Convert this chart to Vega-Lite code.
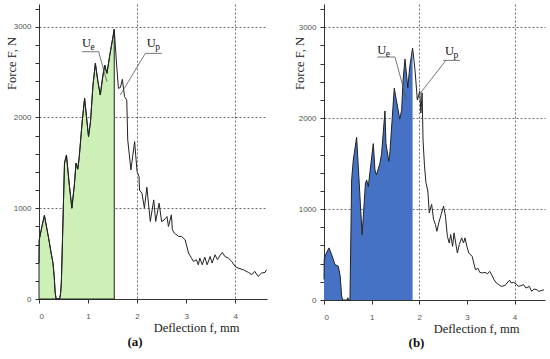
{
  "$schema": "https://vega.github.io/schema/vega-lite/v6.json",
  "padding": {"left": 5, "top": 4, "right": 0, "bottom": 0},
  "bounds": "flush",
  "spacing": 57,
  "background": "white",
  "config": {
    "view": {"stroke": null},
    "axis": {
      "domainColor": "#333",
      "tickColor": "#333",
      "tickSize": 4,
      "labelFont": "Liberation Sans",
      "labelFontSize": 8,
      "labelColor": "#555",
      "titleFont": "Liberation Serif",
      "titleFontSize": 12.5,
      "titleFontWeight": "normal",
      "titleColor": "#222",
      "grid": true,
      "gridColor": "#444",
      "gridDash": [2, 2],
      "gridWidth": 0.8
    },
    "title": {"font": "Liberation Serif", "fontSize": 13, "fontWeight": "bold", "color": "#111"}
  },
  "datasets": {
    "a": [
      {"f": 0, "F": 396}, {"f": 0.005, "F": 652}, {"f": 0.06, "F": 800}, {"f": 0.11, "F": 920},
      {"f": 0.2, "F": 660}, {"f": 0.24, "F": 530}, {"f": 0.285, "F": 396}, {"f": 0.31, "F": 250},
      {"f": 0.33, "F": 69}, {"f": 0.35, "F": 0}, {"f": 0.42, "F": 0}, {"f": 0.44, "F": 60},
      {"f": 0.456, "F": 179}, {"f": 0.52, "F": 1496}, {"f": 0.56, "F": 1587}, {"f": 0.61, "F": 1300},
      {"f": 0.67, "F": 1000}, {"f": 0.72, "F": 1250}, {"f": 0.755, "F": 1496}, {"f": 0.79, "F": 1430},
      {"f": 0.82, "F": 1560}, {"f": 0.88, "F": 1950}, {"f": 0.93, "F": 2211}, {"f": 0.97, "F": 2000},
      {"f": 1.01, "F": 1789}, {"f": 1.05, "F": 1950}, {"f": 1.1, "F": 2350}, {"f": 1.15, "F": 2596},
      {"f": 1.2, "F": 2400}, {"f": 1.25, "F": 2247}, {"f": 1.3, "F": 2450}, {"f": 1.34, "F": 2577},
      {"f": 1.385, "F": 2486}, {"f": 1.45, "F": 2706}, {"f": 1.535, "F": 2970}, {"f": 1.58, "F": 2600},
      {"f": 1.62, "F": 2321}, {"f": 1.66, "F": 2330}, {"f": 1.7, "F": 2420}, {"f": 1.745, "F": 2229},
      {"f": 1.79, "F": 2190}, {"f": 1.81, "F": 1752}, {"f": 1.875, "F": 1422}, {"f": 1.95, "F": 1734},
      {"f": 2.0, "F": 1404}, {"f": 2.04, "F": 1349}, {"f": 2.05, "F": 1200}, {"f": 2.1, "F": 1166},
      {"f": 2.15, "F": 1001}, {"f": 2.2, "F": 1232}, {"f": 2.27, "F": 854}, {"f": 2.34, "F": 1092},
      {"f": 2.38, "F": 854}, {"f": 2.45, "F": 1056}, {"f": 2.5, "F": 854}, {"f": 2.55, "F": 870},
      {"f": 2.61, "F": 909}, {"f": 2.64, "F": 799}, {"f": 2.7, "F": 927}, {"f": 2.72, "F": 762},
      {"f": 2.76, "F": 726}, {"f": 2.85, "F": 689}, {"f": 2.91, "F": 689}, {"f": 2.98, "F": 652},
      {"f": 3.05, "F": 506}, {"f": 3.1, "F": 460}, {"f": 3.15, "F": 414}, {"f": 3.21, "F": 432},
      {"f": 3.25, "F": 377}, {"f": 3.28, "F": 451}, {"f": 3.33, "F": 377}, {"f": 3.38, "F": 462},
      {"f": 3.43, "F": 377}, {"f": 3.49, "F": 469}, {"f": 3.53, "F": 396}, {"f": 3.59, "F": 487},
      {"f": 3.64, "F": 432}, {"f": 3.69, "F": 480}, {"f": 3.74, "F": 513}, {"f": 3.79, "F": 469},
      {"f": 3.86, "F": 451}, {"f": 3.93, "F": 414}, {"f": 4.0, "F": 359}, {"f": 4.06, "F": 341},
      {"f": 4.17, "F": 322}, {"f": 4.27, "F": 293}, {"f": 4.34, "F": 267}, {"f": 4.4, "F": 304},
      {"f": 4.47, "F": 249}, {"f": 4.54, "F": 286}, {"f": 4.61, "F": 293}, {"f": 4.64, "F": 322}
    ],
    "b": [
      {"f": 0, "F": 226}, {"f": 0.005, "F": 450}, {"f": 0.05, "F": 518}, {"f": 0.105, "F": 573},
      {"f": 0.16, "F": 500}, {"f": 0.23, "F": 390}, {"f": 0.3, "F": 372}, {"f": 0.34, "F": 263},
      {"f": 0.37, "F": 44}, {"f": 0.39, "F": 0}, {"f": 0.48, "F": 0}, {"f": 0.5, "F": 25},
      {"f": 0.52, "F": 0}, {"f": 0.545, "F": 0}, {"f": 0.58, "F": 1321}, {"f": 0.615, "F": 1540},
      {"f": 0.685, "F": 1790}, {"f": 0.72, "F": 1467}, {"f": 0.8, "F": 718}, {"f": 0.87, "F": 1285},
      {"f": 0.895, "F": 1321}, {"f": 0.93, "F": 1248}, {"f": 1.035, "F": 1720}, {"f": 1.07, "F": 1431},
      {"f": 1.1, "F": 1376}, {"f": 1.175, "F": 1504}, {"f": 1.21, "F": 1613}, {"f": 1.28, "F": 2080},
      {"f": 1.3, "F": 1723}, {"f": 1.36, "F": 1525}, {"f": 1.385, "F": 1632}, {"f": 1.475, "F": 2330},
      {"f": 1.52, "F": 2197}, {"f": 1.59, "F": 1990}, {"f": 1.63, "F": 2088}, {"f": 1.66, "F": 2416},
      {"f": 1.7, "F": 2650}, {"f": 1.76, "F": 2335}, {"f": 1.8, "F": 2562}, {"f": 1.86, "F": 2772},
      {"f": 1.91, "F": 2533}, {"f": 1.96, "F": 2200}, {"f": 2.01, "F": 2295}, {"f": 2.035, "F": 2057},
      {"f": 2.06, "F": 2280}, {"f": 2.08, "F": 1750}, {"f": 2.11, "F": 1476}, {"f": 2.14, "F": 1292},
      {"f": 2.18, "F": 1199}, {"f": 2.21, "F": 959}, {"f": 2.26, "F": 1052}, {"f": 2.3, "F": 886},
      {"f": 2.34, "F": 830}, {"f": 2.37, "F": 756}, {"f": 2.41, "F": 849}, {"f": 2.46, "F": 941},
      {"f": 2.51, "F": 1033}, {"f": 2.55, "F": 922}, {"f": 2.59, "F": 701}, {"f": 2.63, "F": 627},
      {"f": 2.66, "F": 720}, {"f": 2.7, "F": 590}, {"f": 2.73, "F": 738}, {"f": 2.8, "F": 517},
      {"f": 2.84, "F": 609}, {"f": 2.89, "F": 683}, {"f": 2.93, "F": 627}, {"f": 2.96, "F": 683},
      {"f": 3.0, "F": 590}, {"f": 3.04, "F": 517}, {"f": 3.11, "F": 480}, {"f": 3.18, "F": 332},
      {"f": 3.23, "F": 350}, {"f": 3.27, "F": 304}, {"f": 3.32, "F": 297}, {"f": 3.38, "F": 304},
      {"f": 3.43, "F": 289}, {"f": 3.48, "F": 315}, {"f": 3.53, "F": 267}, {"f": 3.57, "F": 223},
      {"f": 3.62, "F": 187}, {"f": 3.67, "F": 169}, {"f": 3.72, "F": 150}, {"f": 3.78, "F": 157},
      {"f": 3.82, "F": 169}, {"f": 3.87, "F": 205}, {"f": 3.9, "F": 216}, {"f": 3.93, "F": 187},
      {"f": 3.98, "F": 194}, {"f": 4.03, "F": 179}, {"f": 4.08, "F": 150}, {"f": 4.13, "F": 157},
      {"f": 4.19, "F": 169}, {"f": 4.24, "F": 131}, {"f": 4.31, "F": 150}, {"f": 4.36, "F": 95},
      {"f": 4.41, "F": 121}, {"f": 4.47, "F": 113}, {"f": 4.51, "F": 95}, {"f": 4.58, "F": 106},
      {"f": 4.62, "F": 113}
    ],
    "la": [
      {"f": 0.876, "F": 2779, "u": "U", "s": "e"},
      {"f": 2.2, "F": 2772, "u": "U", "s": "p"}
    ],
    "lb": [
      {"f": 1.119, "F": 2709, "u": "U", "s": "e"},
      {"f": 2.54, "F": 2698, "u": "U", "s": "p"}
    ],
    "sa": [
      {"f": 0.876, "F": 2724, "f2": 1.216, "F2": 2724},
      {"f": 1.216, "F": 2724, "f2": 1.385, "F2": 2394},
      {"f": 2.167, "F": 2706, "f2": 2.505, "F2": 2706},
      {"f": 2.167, "F": 2706, "f2": 1.658, "F2": 2247}
    ],
    "sb": [
      {"f": 1.12, "F": 2673, "f2": 1.49, "F2": 2673},
      {"f": 1.49, "F": 2673, "f2": 1.733, "F2": 2203},
      {"f": 2.504, "F": 2636, "f2": 2.854, "F2": 2636},
      {"f": 2.56, "F": 2636, "f2": 1.943, "F2": 2222}
    ]
  },
  "hconcat": [
    {
      "width": 228,
      "height": 295,
      "title": {"text": "(a)", "orient": "bottom", "anchor": "middle", "frame": "group", "dx": -18, "offset": 2},
      "encoding": {
        "x": {"field": "f", "type": "quantitative", "scale": {"domain": [0, 4.65], "nice": false},
          "axis": {"values": [0, 0.5, 1, 1.5, 2, 2.5, 3, 3.5, 4, 4.5], "format": "d",
            "labelExpr": "datum.value % 1 === 0 ? datum.label : ''", "labelPadding": 9,
            "title": "Deflection f, mm", "titleX": 157, "titleY": 32, "titleBaseline": "alphabetic", "titleAlign": "center",
            "gridOpacity": {"condition": {"test": "datum.value === 2 || datum.value === 4", "value": 1}, "value": 0}}},
        "y": {"field": "F", "type": "quantitative", "scale": {"domain": [0, 3250], "nice": false},
          "axis": {"values": [0, 200, 400, 600, 800, 1000, 1200, 1400, 1600, 1800, 2000, 2200, 2400, 2600, 2800, 3000, 3200], "format": "d",
            "labelExpr": "datum.value % 1000 === 0 ? datum.label : ''", "labelPadding": 4,
            "title": "Force F, N", "titleX": -28, "titleY": 59, "titleBaseline": "middle", "titleAlign": "center",
            "gridOpacity": {"condition": {"test": "datum.value % 1000 === 0 && datum.value > 0", "value": 1}, "value": 0}}}
      },
      "layer": [
        {"data": {"name": "a"}, "transform": [{"filter": "datum.f <= 1.535"}],
          "mark": {"type": "area", "color": "#ccf0b6", "stroke": "#222", "strokeWidth": 1}},
        {"data": {"name": "a"}, "mark": {"type": "line", "color": "#222", "strokeWidth": 1}},
        {"data": {"name": "sa"}, "mark": {"type": "rule", "color": "#555", "strokeWidth": 0.8},
          "encoding": {"x2": {"field": "f2"}, "y2": {"field": "F2"}}},
        {"data": {"name": "la"}, "mark": {"type": "text", "align": "left", "baseline": "alphabetic", "font": "Liberation Serif", "fontSize": 12.5, "color": "#111"},
          "encoding": {"text": {"field": "u"}}},
        {"data": {"name": "la"}, "mark": {"type": "text", "align": "left", "baseline": "alphabetic", "font": "Liberation Serif", "fontSize": 9.5, "color": "#111", "dx": 8.5, "dy": 3},
          "encoding": {"text": {"field": "s"}}}
      ]
    },
    {
      "width": 221,
      "height": 296,
      "title": {"text": "(b)", "orient": "bottom", "anchor": "middle", "frame": "group", "dx": -18, "offset": 2},
      "encoding": {
        "x": {"field": "f", "type": "quantitative", "scale": {"domain": [0, 4.64], "nice": false},
          "axis": {"values": [0, 0.5, 1, 1.5, 2, 2.5, 3, 3.5, 4, 4.5], "format": "d",
            "labelExpr": "datum.value % 1 === 0 ? datum.label : ''", "labelPadding": 9,
            "title": "Deflection f, mm", "titleX": 152, "titleY": 32, "titleBaseline": "alphabetic", "titleAlign": "center",
            "gridOpacity": {"condition": {"test": "datum.value === 2 || datum.value === 4", "value": 1}, "value": 0}}},
        "y": {"field": "F", "type": "quantitative", "scale": {"domain": [0, 3256], "nice": false},
          "axis": {"values": [0, 200, 400, 600, 800, 1000, 1200, 1400, 1600, 1800, 2000, 2200, 2400, 2600, 2800, 3000, 3200], "format": "d",
            "labelExpr": "datum.value % 1000 === 0 ? datum.label : ''", "labelPadding": 4,
            "title": "Force F, N", "titleX": -25, "titleY": 59, "titleBaseline": "middle", "titleAlign": "center",
            "gridOpacity": {"condition": {"test": "datum.value % 1000 === 0 && datum.value > 0", "value": 1}, "value": 0}}}
      },
      "layer": [
        {"data": {"name": "b"}, "transform": [{"filter": "datum.f <= 1.86"}],
          "mark": {"type": "area", "color": "#4672c6"}},
        {"data": {"name": "b"}, "mark": {"type": "line", "color": "#222", "strokeWidth": 1}},
        {"data": {"name": "sb"}, "mark": {"type": "rule", "color": "#555", "strokeWidth": 0.8},
          "encoding": {"x2": {"field": "f2"}, "y2": {"field": "F2"}}},
        {"data": {"name": "lb"}, "mark": {"type": "text", "align": "left", "baseline": "alphabetic", "font": "Liberation Serif", "fontSize": 12.5, "color": "#111"},
          "encoding": {"text": {"field": "u"}}},
        {"data": {"name": "lb"}, "mark": {"type": "text", "align": "left", "baseline": "alphabetic", "font": "Liberation Serif", "fontSize": 9.5, "color": "#111", "dx": 8.5, "dy": 3},
          "encoding": {"text": {"field": "s"}}}
      ]
    }
  ]
}
